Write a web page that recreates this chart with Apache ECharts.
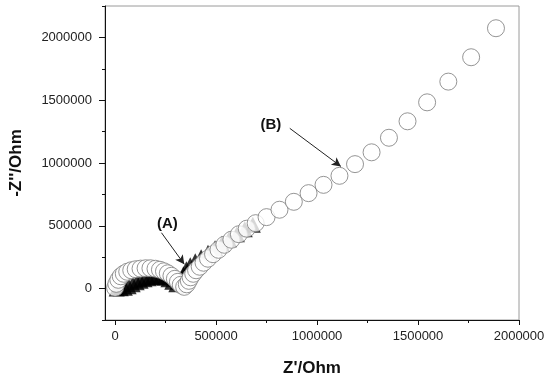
<!DOCTYPE html>
<html><head><meta charset="utf-8">
<script src="https://cdn.jsdelivr.net/npm/echarts@6/dist/echarts.min.js"></script>
<style>html,body{margin:0;padding:0;background:#fff}#c{width:550px;height:382px}</style>
</head><body><div id="c"></div>
<script>
// Series (B): open circles, Z' (Ohm), -Z'' (Ohm)
const seriesB = [
  [0,6000],[6000,38000],[16000,70000],[28000,98000],[43000,118000],[60000,134000],[80000,146000],
  [102000,154000],[126000,159000],[151000,162000],[175000,162000],[200000,158000],[222000,150000],
  [242000,138000],[261000,122000],[279000,102000],[296000,78000],[311000,54000],[325000,30000],
  [342000,14000],[355000,34000],[365000,62000],[374000,90000],[387000,118000],[401000,146000],
  [419000,174000],[438000,206000],[460000,238000],[485000,274000],[512000,309000],[541000,349000],
  [576000,389000],[613000,433000],[652000,477000],[696000,521000],[750000,569000],[814000,628000],
  [885000,691000],[958000,760000],[1032000,826000],[1111000,898000],[1188000,991000],[1270000,1085000],
  [1356000,1201000],[1448000,1332000],[1545000,1483000],[1650000,1648000],[1763000,1842000],[1886000,2073000]
];
// Series (A): filled black markers
const seriesA = [
  [8000,0],[28000,2000],[48000,6000],[67000,18000],[87000,34000],[107000,50000],[126000,62000],
  [146000,74000],[166000,82000],[185000,90000],[205000,94000],[225000,94000],[244000,86000],
  [264000,74000],[283000,54000],[303000,34000],[323000,74000],[338000,114000],[353000,154000],
  [372000,186000],[397000,218000],[426000,250000],[460000,285000],[495000,321000],[529000,357000],
  [564000,393000],[603000,433000],[642000,473000],[682000,509000]
];
const xMajorTicks = [0,500000,1000000,1500000,2000000];
const xMinorTicks = [250000,750000,1250000,1750000];
const yMajorTicks = [0,500000,1000000,1500000,2000000];
const yMinorTicks = [-250000,250000,750000,1250000,1750000,2250000];
// annotations: [start, tip] and label positions in data units
const arrowA = [[229500,445000],[342500,194000]];
const arrowB = [[865000,1276000],[1118000,973000]];
const labelA = [259000,513000];
const labelB = [771000,1302000];

const FONT = '"Liberation Sans", Arial, sans-serif';
const X_MIN = -50000, X_MAX = 2000000, Y_MIN = -250000, Y_MAX = 2250000;

function majorAxis(ticks, name, isY) {
  return {
    type: 'value', min: isY ? Y_MIN : X_MIN, max: isY ? Y_MAX : X_MAX,
    position: isY ? 'left' : 'bottom',
    name: name, nameLocation: 'middle', nameGap: isY ? 80 : 40,
    nameTextStyle: {fontFamily: FONT, fontWeight: 'bold', fontSize: 17, color: '#111'},
    axisLine: {show: true, onZero: false, lineStyle: {color: '#111', width: 1}},
    axisTick: {show: true, inside: false, length: isY ? 6 : 5, customValues: ticks, lineStyle: {color: '#111'}},
    axisLabel: {show: true, customValues: ticks, margin: isY ? 13 : 10, fontFamily: FONT, fontSize: 13, color: '#222',
      formatter: function (v) { return String(v); }},
    splitLine: {show: false}
  };
}
function minorAxis(ticks, isY) {
  return {
    type: 'value', min: isY ? Y_MIN : X_MIN, max: isY ? Y_MAX : X_MAX,
    position: isY ? 'left' : 'bottom',
    axisLine: {show: false, onZero: false},
    axisTick: {show: true, inside: false, length: 3, customValues: ticks, lineStyle: {color: '#111'}},
    axisLabel: {show: false},
    splitLine: {show: false}
  };
}

const chart = echarts.init(document.getElementById('c'), null, {renderer: 'canvas'});
chart.setOption({
  animation: false,
  backgroundColor: '#fff',
  grid: {left: 103, right: 31, top: 6, bottom: 60, show: true, borderColor: '#9a9a9a', borderWidth: 1, backgroundColor: 'transparent'},
  xAxis: [majorAxis(xMajorTicks, "Z'/Ohm", false), minorAxis(xMinorTicks, false)],
  yAxis: [majorAxis(yMajorTicks, "-Z''/Ohm", true), minorAxis(yMinorTicks, true)],
  series: [
    {
      name: '(A)', type: 'scatter', data: seriesA, symbol: 'triangle', symbolSize: 16,
      itemStyle: {color: '#000'}, z: 2,
      markLine: {
        silent: true, symbol: ['none', 'arrow'], symbolSize: [7, 9],
        lineStyle: {color: '#222', width: 1, type: 'solid'}, label: {show: false},
        data: [[{coord: arrowA[0]}, {coord: arrowA[1]}]]
      },
      markPoint: {
        silent: true, symbol: 'circle', symbolSize: 1, itemStyle: {color: 'rgba(0,0,0,0)'},
        label: {show: true, position: 'inside', formatter: '{b}', fontFamily: FONT, fontWeight: 'bold', fontSize: 15, color: '#111'},
        data: [{name: '(A)', coord: labelA}]
      }
    },
    {
      name: '(B)', type: 'scatter', data: seriesB, symbol: 'circle', symbolSize: 17,
      itemStyle: {color: '#fff', borderColor: '#7a7a7a', borderWidth: 1}, z: 3,
      markLine: {
        silent: true, symbol: ['none', 'arrow'], symbolSize: [7, 9],
        lineStyle: {color: '#222', width: 1, type: 'solid'}, label: {show: false},
        data: [[{coord: arrowB[0]}, {coord: arrowB[1]}]]
      },
      markPoint: {
        silent: true, symbol: 'circle', symbolSize: 1, itemStyle: {color: 'rgba(0,0,0,0)'},
        label: {show: true, position: 'inside', formatter: '{b}', fontFamily: FONT, fontWeight: 'bold', fontSize: 15, color: '#111'},
        data: [{name: '(B)', coord: labelB}]
      }
    }
  ]
});
</script></body></html>
